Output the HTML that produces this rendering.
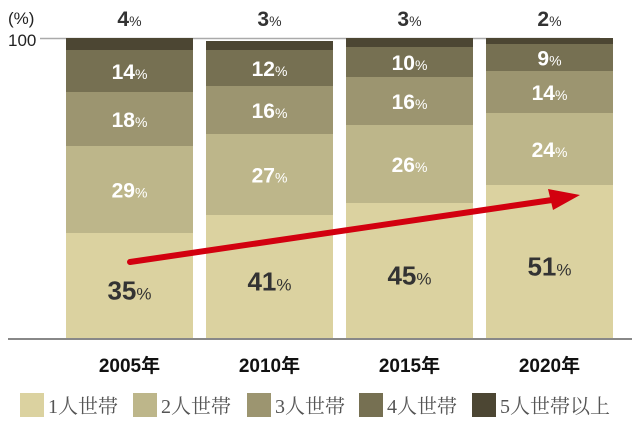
<!DOCTYPE html>
<html><head><meta charset="utf-8"><style>
body{margin:0;background:#fff;width:638px;height:424px;overflow:hidden}
svg{display:block}
</style></head><body>
<svg id="c" width="638" height="424" xmlns="http://www.w3.org/2000/svg"></svg>
<script>
const categories=["2005年","2010年","2015年","2020年"];
const seriesNames=["1人世帯","2人世帯","3人世帯","4人世帯","5人世帯以上"];
const s1=[35,41,45,51];
const s2=[29,27,26,24];
const s3=[18,16,16,14];
const s4=[14,12,10,9];
const s5=[4,3,3,2];
const series=[s1,s2,s3,s4,s5];
const colors=["#dbd2a0","#bdb68a","#9c9570","#767052","#4c4633"];
const NS="http://www.w3.org/2000/svg";
const svg=document.getElementById('c');
const y0=338,y100=38;
const yS=v=>y0-(v/100)*(y0-y100);
const bx=i=>66+i*140, bw=127;
function mk(t,a,p){const e=document.createElementNS(NS,t);for(const k in a)e.setAttribute(k,a[k]);(p||svg).appendChild(e);return e;}
const F='"Liberation Sans","Noto Sans CJK JP",sans-serif';
let e;
e=mk('line',{x1:40,y1:38.5,x2:600,y2:38.5,stroke:'#aaa','stroke-width':1.5});

e=mk('text',{x:8,y:24,'font-family':F,'font-size':17,fill:'#222'});e.textContent='(%)';

e=mk('text',{x:8,y:46,'font-family':F,'font-size':17,fill:'#222'});e.textContent='100';

categories.forEach((c,i)=>{
  let cum=0;
  series.forEach((s,k)=>{
    const v=s[i],top=yS(cum+v),bot=yS(cum);
    const r=mk('rect',{x:bx(i),y:top,width:bw,height:bot-top,fill:colors[k]});
    
    
    let ty;
    if(k===4) ty=26; else ty=(top+bot)/2+8+(k===0?6:0);
    const t=mk('text',{x:bx(i)+bw/2,y:ty,'text-anchor':'middle','font-family':F,'font-weight':'bold','font-size':k===0?26:21,fill:(k===0||k===4)?'#333':'#fff'});
    
    
    t.textContent=v;
    const ts=mk('tspan',{'font-size':k===0?17:14,'font-weight':'normal'},t);ts.textContent='%';
    cum+=v;
  });
  const xl=mk('text',{x:bx(i)+bw/2,y:372,'text-anchor':'middle','font-family':F,'font-weight':'bold','font-size':19,fill:'#111'});
  
  xl.textContent=c;
});
e=mk('line',{x1:8,y1:339,x2:632,y2:339,stroke:'#888','stroke-width':2});

e=mk('line',{x1:130,y1:262,x2:552,y2:200,stroke:'#d2000f','stroke-width':6,'stroke-linecap':'round'});

e=mk('polygon',{points:'580,195 548,189 553,210',fill:'#d2000f'});

const lx=[20,133,247,359,472];
seriesNames.forEach((n,k)=>{
  const g=mk('g',{});
  
  mk('rect',{x:lx[k],y:393,width:24,height:24,fill:colors[k]},g);
  const t=mk('text',{x:lx[k]+28,y:413,'font-family':'"Liberation Serif","Noto Serif CJK SC",serif','font-size':20,fill:'#555'},g);
  t.textContent=n;
});
</script>
</body></html>
